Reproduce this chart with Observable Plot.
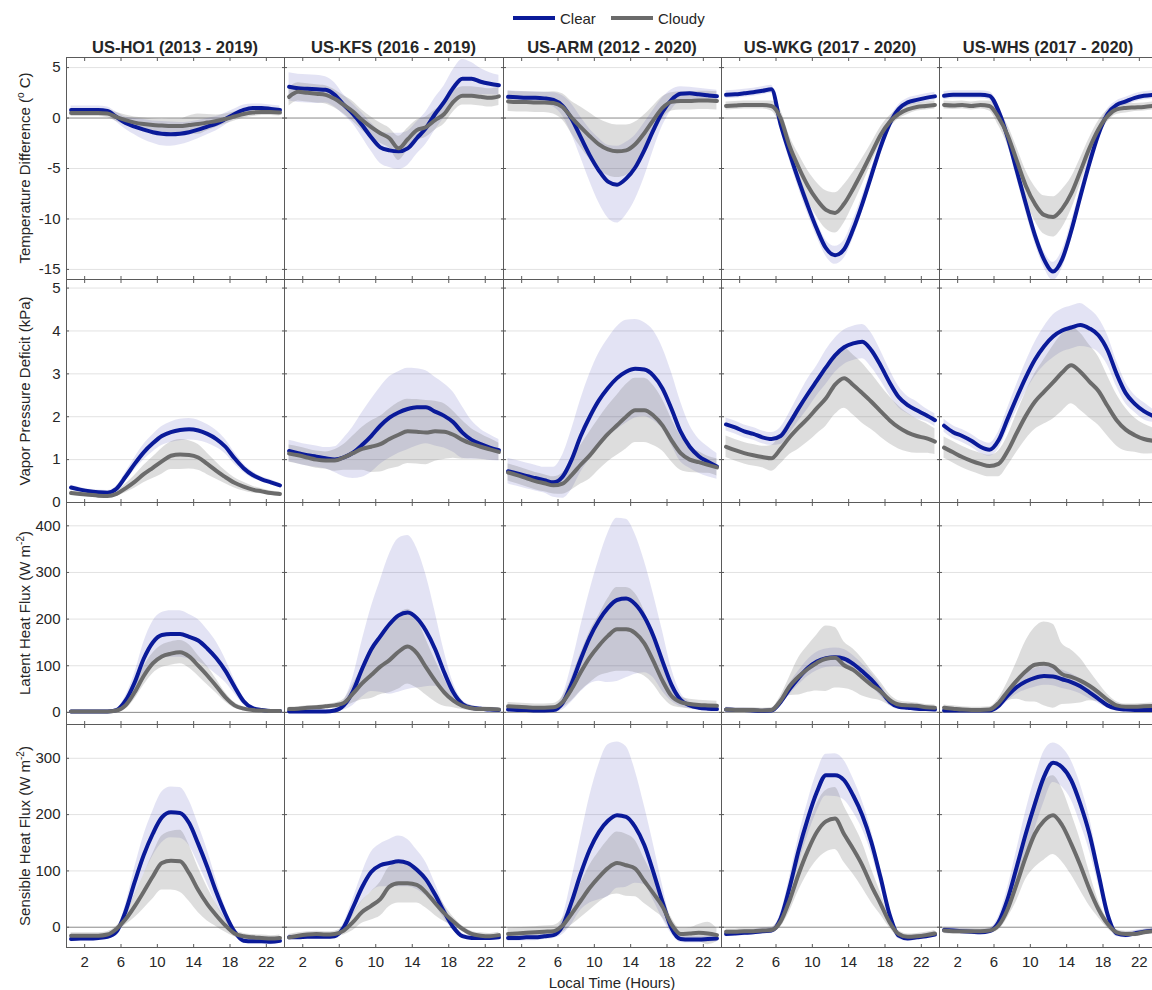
<!DOCTYPE html>
<html><head><meta charset="utf-8">
<script src="https://cdn.jsdelivr.net/npm/d3@7"></script>
<script src="https://cdn.jsdelivr.net/npm/@observablehq/plot@0.6"></script>
<style>
html,body{margin:0;padding:0;background:#fff;overflow:hidden;}
#fig{position:relative;width:1152px;height:990px;overflow:hidden;font-family:"Liberation Sans",Arial,sans-serif;color:#262626;background:#fff;}
.panel{position:absolute;}
.panel svg{overflow:visible;display:block;max-width:none !important;}
.title{position:absolute;font-weight:bold;font-size:16.5px;white-space:nowrap;transform:translate(-50%,-50%);}
.ylab{position:absolute;font-size:15px;white-space:nowrap;transform:translate(-50%,-50%) rotate(-90deg);}
.ylab sup{font-size:10px;vertical-align:6px;line-height:0;}
.xlab{position:absolute;font-size:15px;white-space:nowrap;transform:translate(-50%,-50%);}
.legend{position:absolute;left:0;top:0;font-size:15px;}
</style>
</head><body>
<div id="fig"></div>
<script>
// ---------------- data ----------------
const sites = ["US-HO1 (2013 - 2019)", "US-KFS (2016 - 2019)", "US-ARM (2012 - 2020)", "US-WKG (2017 - 2020)", "US-WHS (2017 - 2020)"];
const hours = [0.5,1.5,2.5,3.5,4.5,5.5,6.5,7.5,8.5,9.5,10.5,11.5,12.5,13.5,14.5,15.5,16.5,17.5,18.5,19.5,20.5,21.5,22.5,23.5];
const xTicks = [2, 6, 10, 14, 18, 22];
const seriesNames = ["Clear", "Cloudy"];
const rowLabels = ["Temperature Difference (<sup>o</sup> C)", "Vapor Pressure Deficit (kPa)", "Latent Heat Flux (W m<sup>-2</sup>)", "Sensible Heat Flux (W m<sup>-2</sup>)"];
const xLabel = "Local Time (Hours)";

// Temperature difference (°C)
const tempClearMean = [
 [0.8,0.8,0.8,0.8,0.7,0.1,-0.5,-0.85,-1.15,-1.4,-1.55,-1.6,-1.55,-1.4,-1.15,-0.85,-0.55,-0.1,0.4,0.8,1.0,1.0,0.9,0.8],
 [3.1,2.95,2.9,2.85,2.8,2.3,1.3,0.4,-0.7,-1.9,-2.9,-3.2,-3.3,-3.0,-2.0,-1.0,0.4,1.6,3.0,3.9,3.9,3.6,3.4,3.25],
 [2.1,2.05,2.0,2.0,1.95,1.8,1.2,-0.1,-1.9,-3.7,-5.2,-6.3,-6.6,-6.0,-4.9,-3.2,-1.2,0.6,1.8,2.4,2.45,2.35,2.25,2.15],
 [2.3,2.35,2.45,2.55,2.7,2.85,-0.6,-3.5,-6.2,-8.7,-11.0,-12.9,-13.6,-13.0,-11.0,-8.5,-5.7,-2.9,-0.6,0.9,1.55,1.8,2.0,2.15],
 [2.2,2.3,2.3,2.3,2.3,2.2,0.7,-1.9,-5.2,-8.5,-11.6,-14.0,-15.2,-14.0,-11.2,-7.8,-4.5,-1.6,0.4,1.3,1.65,2.0,2.2,2.3]];
const tempClearSd = [
 [0.4,0.4,0.4,0.4,0.4,0.5,0.6,0.8,1.0,1.1,1.2,1.2,1.1,1.0,0.9,0.8,0.7,0.6,0.5,0.5,0.4,0.4,0.4,0.4],
 [1.4,1.4,1.4,1.4,1.3,1.2,1.0,1.0,1.2,1.4,1.6,1.7,1.8,1.7,1.6,1.6,1.6,1.6,1.8,1.9,1.6,1.3,1.1,1.0],
 [0.6,0.6,0.6,0.6,0.6,0.7,1.0,1.5,2.0,2.6,3.2,3.6,3.8,3.6,3.2,2.7,2.0,1.4,1.0,0.7,0.6,0.6,0.6,0.6],
 [0.4,0.4,0.4,0.4,0.4,0.4,0.6,0.7,0.8,0.8,0.8,0.8,0.9,0.9,0.9,0.8,0.7,0.6,0.5,0.4,0.4,0.4,0.4,0.4],
 [0.4,0.4,0.4,0.4,0.4,0.4,0.6,0.7,0.8,0.8,0.8,0.8,0.9,0.9,0.9,0.8,0.7,0.6,0.5,0.4,0.4,0.4,0.4,0.4]];
const tempCloudyMean = [
 [0.5,0.5,0.5,0.5,0.45,0.1,-0.2,-0.45,-0.6,-0.7,-0.75,-0.8,-0.8,-0.7,-0.6,-0.45,-0.3,-0.1,0.15,0.4,0.55,0.6,0.6,0.55],
 [2.1,2.6,2.5,2.4,2.3,1.9,1.3,0.65,-0.2,-0.9,-1.5,-2.0,-3.0,-2.1,-1.2,-0.9,-0.2,0.4,1.6,2.2,2.2,2.1,2.0,2.15],
 [1.65,1.6,1.6,1.55,1.55,1.5,1.1,0.05,-0.9,-1.8,-2.6,-3.1,-3.3,-3.2,-2.6,-1.5,-0.2,1.0,1.6,1.7,1.7,1.75,1.75,1.7],
 [1.2,1.25,1.3,1.3,1.3,1.2,0.0,-2.8,-4.9,-6.7,-8.1,-9.1,-9.4,-8.5,-7.0,-5.3,-3.5,-1.7,-0.4,0.4,0.85,1.1,1.2,1.3],
 [1.3,1.25,1.3,1.2,1.3,1.2,0.05,-1.7,-4.2,-6.7,-8.5,-9.6,-9.8,-9.0,-7.5,-5.3,-3.0,-1.1,0.2,0.85,1.0,1.05,1.1,1.2]];
const tempCloudySd = [
 [0.35,0.35,0.35,0.35,0.4,0.45,0.5,0.55,0.6,0.6,0.6,0.7,0.7,0.9,1.0,0.8,0.6,0.5,0.45,0.4,0.4,0.35,0.35,0.35],
 [0.9,0.9,0.9,0.9,0.9,0.9,0.9,1.0,1.0,1.0,1.0,1.0,1.2,1.1,1.0,1.0,1.0,1.0,1.0,0.9,0.9,0.9,0.9,0.9],
 [1.0,1.0,1.0,1.0,1.0,1.1,1.3,1.6,2.0,2.3,2.5,2.6,2.6,2.5,2.2,1.8,1.4,1.1,0.9,0.9,0.9,0.9,0.9,0.9],
 [0.4,0.4,0.4,0.4,0.4,0.5,0.8,1.0,1.3,1.5,1.7,1.9,2.0,1.9,1.6,1.3,1.0,0.8,0.6,0.5,0.5,0.4,0.4,0.4],
 [0.4,0.4,0.4,0.4,0.4,0.5,0.8,1.0,1.3,1.5,1.7,1.9,2.0,1.9,1.6,1.3,1.0,0.8,0.6,0.5,0.5,0.4,0.4,0.4]];

// Vapor pressure deficit (kPa)
const vpdClearMean = [
 [0.35,0.3,0.26,0.24,0.23,0.32,0.6,0.9,1.17,1.38,1.55,1.64,1.69,1.71,1.68,1.6,1.48,1.3,1.03,0.8,0.64,0.54,0.47,0.4],
 [1.2,1.15,1.1,1.07,1.03,1.0,1.05,1.16,1.34,1.55,1.79,1.98,2.1,2.18,2.22,2.22,2.12,2.02,1.87,1.63,1.46,1.36,1.28,1.22],
 [0.73,0.68,0.62,0.57,0.52,0.47,0.6,1.0,1.55,2.0,2.38,2.67,2.9,3.05,3.12,3.1,2.96,2.66,2.18,1.65,1.3,1.08,0.95,0.84],
 [1.82,1.75,1.66,1.6,1.52,1.48,1.55,1.85,2.2,2.53,2.84,3.15,3.43,3.62,3.71,3.75,3.55,3.2,2.8,2.46,2.27,2.15,2.04,1.92],
 [1.79,1.64,1.55,1.44,1.3,1.23,1.45,1.95,2.45,2.92,3.33,3.64,3.87,4.01,4.08,4.14,4.06,3.9,3.55,3.0,2.55,2.3,2.13,2.02]];
const vpdClearSd = [
 [0.05,0.05,0.05,0.05,0.05,0.06,0.1,0.14,0.18,0.2,0.22,0.24,0.25,0.25,0.24,0.22,0.2,0.17,0.14,0.1,0.08,0.06,0.06,0.05],
 [0.25,0.25,0.25,0.25,0.25,0.3,0.45,0.6,0.75,0.85,0.9,0.95,0.95,0.95,0.9,0.85,0.8,0.75,0.7,0.6,0.45,0.35,0.3,0.25],
 [0.3,0.3,0.3,0.3,0.3,0.35,0.5,0.7,0.85,1.0,1.1,1.15,1.2,1.2,1.15,1.1,1.05,0.95,0.85,0.7,0.5,0.4,0.35,0.3],
 [0.15,0.15,0.15,0.15,0.15,0.15,0.2,0.25,0.3,0.35,0.35,0.4,0.4,0.4,0.4,0.4,0.4,0.35,0.3,0.25,0.2,0.2,0.15,0.15],
 [0.15,0.15,0.15,0.15,0.15,0.15,0.2,0.25,0.3,0.35,0.4,0.45,0.5,0.5,0.5,0.5,0.45,0.4,0.35,0.3,0.25,0.2,0.2,0.15]];
const vpdCloudyMean = [
 [0.22,0.2,0.18,0.16,0.15,0.2,0.33,0.48,0.66,0.81,0.96,1.09,1.12,1.11,1.05,0.9,0.74,0.59,0.46,0.37,0.3,0.26,0.22,0.2],
 [1.14,1.1,1.05,1.0,0.98,0.98,1.05,1.15,1.25,1.3,1.36,1.48,1.58,1.66,1.65,1.63,1.66,1.65,1.58,1.46,1.37,1.3,1.24,1.18],
 [0.7,0.64,0.57,0.5,0.45,0.4,0.44,0.64,0.88,1.1,1.36,1.6,1.8,2.0,2.15,2.15,2.03,1.8,1.45,1.15,1.0,0.94,0.88,0.82],
 [1.3,1.22,1.15,1.1,1.06,1.03,1.25,1.52,1.75,1.96,2.2,2.43,2.75,2.9,2.74,2.55,2.35,2.13,1.92,1.75,1.63,1.55,1.5,1.42],
 [1.28,1.17,1.06,0.97,0.9,0.85,0.9,1.2,1.62,2.02,2.35,2.58,2.8,3.03,3.2,3.05,2.82,2.6,2.25,1.92,1.7,1.57,1.48,1.44]];
const vpdCloudySd = [
 [0.05,0.05,0.05,0.05,0.05,0.06,0.1,0.15,0.2,0.25,0.3,0.32,0.35,0.33,0.3,0.25,0.2,0.15,0.12,0.1,0.08,0.06,0.05,0.05],
 [0.2,0.2,0.2,0.2,0.2,0.25,0.3,0.4,0.5,0.6,0.65,0.7,0.75,0.75,0.75,0.75,0.7,0.65,0.55,0.45,0.35,0.3,0.25,0.2],
 [0.2,0.2,0.2,0.2,0.2,0.2,0.25,0.35,0.45,0.55,0.6,0.65,0.7,0.75,0.75,0.75,0.7,0.6,0.5,0.4,0.3,0.25,0.2,0.2],
 [0.25,0.25,0.25,0.25,0.25,0.3,0.35,0.4,0.5,0.55,0.6,0.65,0.7,0.7,0.7,0.7,0.65,0.6,0.55,0.5,0.45,0.4,0.35,0.3],
 [0.25,0.25,0.25,0.25,0.25,0.25,0.3,0.35,0.45,0.55,0.65,0.75,0.85,0.9,0.9,0.9,0.85,0.8,0.7,0.6,0.5,0.4,0.35,0.3]];

// Latent heat flux (W m-2)
const leClearMean = [
 [2,2,2,2,2,5,25,64,115,150,166,168,168,162,154,137,116,89,55,24,9,5,3,3],
 [2,2,2,2,2,4,15,45,93,135,163,189,208,214,202,175,136,86,43,18,10,8,6,5],
 [6,5,5,4,4,5,20,62,114,161,197,224,241,244,232,205,164,110,59,27,15,10,8,7],
 [6,5,5,4,3,4,22,50,74,95,109,116,118,115,104,88,70,47,23,12,10,8,7,6],
 [4,4,4,4,4,4,14,36,54,66,74,78,77,71,65,56,43,29,15,8,6,5,5,5]];
const leClearSd = [
 [2,2,2,2,2,3,10,20,35,45,48,50,50,48,45,40,35,25,15,8,4,3,2,2],
 [3,3,3,3,3,4,10,30,60,90,120,150,165,165,150,120,80,45,20,8,5,4,4,4],
 [4,4,4,4,4,5,15,40,70,100,130,160,175,170,150,120,90,65,35,15,8,6,5,5],
 [5,5,5,5,5,5,8,12,15,18,20,20,20,20,18,16,14,12,8,6,5,5,5,5],
 [4,4,4,4,4,4,8,12,15,18,20,20,20,20,18,16,14,10,6,5,4,4,4,4]];
const leCloudyMean = [
 [2,2,2,2,2,4,15,43,78,105,120,126,129,120,100,79,56,32,15,8,5,4,3,3],
 [7,8,10,11,13,15,20,40,62,80,98,112,130,141,127,97,68,43,25,14,9,7,7,6],
 [13,12,11,10,10,11,22,50,86,118,143,164,178,178,170,148,110,68,35,22,18,16,15,14],
 [6,5,5,5,4,5,25,56,77,93,106,115,117,101,91,75,59,45,27,17,15,14,11,10],
 [10,8,6,5,5,6,20,45,68,88,102,104,99,82,76,68,57,43,27,15,12,12,13,14]];
const leCloudySd = [
 [2,2,2,2,2,3,8,15,20,22,24,25,25,25,22,20,15,10,6,4,3,2,2,2],
 [4,4,4,4,4,5,8,20,35,50,60,70,80,80,75,60,45,30,15,8,6,5,4,4],
 [8,8,8,8,8,8,12,25,40,55,65,80,90,90,85,70,50,35,20,12,10,10,10,10],
 [5,5,5,5,5,5,10,20,40,50,60,70,65,50,45,40,30,20,12,8,7,6,6,6],
 [6,6,6,6,6,6,10,20,40,65,80,90,90,65,58,48,32,20,12,8,6,6,6,6]];

// Sensible heat flux (W m-2)
const hClearMean = [
 [-21,-20,-20,-19,-17,-8,28,80,128,166,195,204,203,185,148,107,62,23,-8,-24,-25,-25,-26,-24],
 [-18,-18,-17,-17,-17,-16,0,35,71,98,110,114,117,114,102,85,58,27,0,-16,-19,-19,-19,-18],
 [-19,-19,-18,-18,-16,-14,2,45,95,138,169,189,199,196,178,146,98,45,-2,-21,-22,-22,-21,-20],
 [-12,-11,-10,-9,-7,-6,15,71,137,193,240,270,270,261,234,199,151,89,23,-15,-20,-18,-16,-13],
 [-5,-6,-7,-8,-9,-7,9,50,107,166,219,267,292,284,261,219,166,95,23,-11,-14,-11,-8,-6]];
const hClearSd = [
 [5,5,5,5,5,6,12,25,35,40,45,45,45,40,35,30,22,12,6,5,5,5,5,5],
 [4,4,4,4,4,4,8,15,25,35,38,42,45,42,35,30,20,12,6,4,4,4,4,4],
 [6,6,6,6,6,6,15,40,65,95,120,135,130,125,100,70,50,30,10,6,6,6,6,6],
 [5,5,5,5,5,5,10,18,25,30,35,37,38,35,30,25,20,15,10,6,5,5,5,5],
 [5,5,5,5,5,5,10,20,30,40,45,45,35,35,35,35,30,20,10,6,5,5,5,5]];
const hCloudyMean = [
 [-15,-15,-15,-15,-13,-3,14,37,63,90,114,118,117,96,66,41,21,3,-11,-16,-18,-19,-20,-19],
 [-18,-15,-13,-12,-13,-12,-6,9,27,38,50,72,78,78,75,62,43,25,10,-3,-12,-15,-16,-14],
 [-12,-11,-10,-9,-8,-7,3,24,47,70,89,105,114,110,104,82,60,37,5,-12,-11,-10,-11,-14],
 [-8,-8,-7,-7,-6,-5,10,48,95,136,169,188,193,165,139,110,74,42,9,-12,-17,-16,-14,-11],
 [-6,-7,-7,-7,-7,-6,3,32,77,125,166,189,199,181,148,110,68,32,6,-9,-12,-12,-9,-7]];
const hCloudySd = [
 [5,5,5,5,5,5,10,20,30,40,48,52,55,50,40,30,20,12,6,5,5,5,5,5],
 [5,5,5,5,5,5,8,15,20,25,30,35,35,35,32,28,22,15,8,5,5,5,5,5],
 [10,10,10,10,10,10,12,20,30,40,45,50,55,55,50,40,30,20,12,10,10,15,20,12],
 [5,5,5,5,5,5,10,20,30,40,50,55,55,50,45,40,30,20,10,6,5,5,5,5],
 [5,5,5,5,5,5,8,15,30,40,60,70,70,65,55,45,30,15,8,5,5,5,5,5]];

// ---------------- layout / style ----------------
const colL = [66, 284, 503, 721, 939, 1157];
const rowT = [57, 279, 502, 724, 947];
const rows = [
  {clearMean: tempClearMean, clearSd: tempClearSd, cloudyMean: tempCloudyMean, cloudySd: tempCloudySd, domain: [-16, 6], ticks: [-15, -10, -5, 0, 5], zero: true},
  {clearMean: vpdClearMean, clearSd: vpdClearSd, cloudyMean: vpdCloudyMean, cloudySd: vpdCloudySd, domain: [0, 5.2], ticks: [0, 1, 2, 3, 4, 5], zero: false},
  {clearMean: leClearMean, clearSd: leClearSd, cloudyMean: leCloudyMean, cloudySd: leCloudySd, domain: [-26, 450], ticks: [0, 100, 200, 300, 400], zero: true},
  {clearMean: hClearMean, clearSd: hClearSd, cloudyMean: hCloudyMean, cloudySd: hCloudySd, domain: [-36, 360], ticks: [0, 100, 200, 300], zero: true}
];
const CLEAR = "#0a1a99", CLOUDY = "#6b6b6b";
const FRAME = "#5a5a5a";
const CURVE = "monotone-x";

function series(means, sds) {
  return hours.map((h, i) => ({hour: h, mean: means[i], lo: means[i] - sds[i], hi: means[i] + sds[i]}));
}

const fig = document.getElementById("fig");

// legend
const leg = document.createElement("div");
leg.className = "legend";
leg.innerHTML = `
<svg width="1152" height="34" style="position:absolute;left:0;top:0">
  <line x1="513" x2="555" y1="18" y2="18" stroke="${CLEAR}" stroke-width="4"/>
  <text x="560" y="23.5" font-size="15" fill="#262626" font-family="Liberation Sans, Arial, sans-serif">${seriesNames[0]}</text>
  <line x1="611" x2="653" y1="18" y2="18" stroke="${CLOUDY}" stroke-width="4"/>
  <text x="658" y="23.5" font-size="15" fill="#262626" font-family="Liberation Sans, Arial, sans-serif">${seriesNames[1]}</text>
</svg>`;
fig.appendChild(leg);

// titles
sites.forEach((s, c) => {
  const t = document.createElement("div");
  t.className = "title";
  t.textContent = s;
  t.style.left = ((colL[c] + colL[c + 1]) / 2) + "px";
  t.style.top = "47px";
  fig.appendChild(t);
});

// y labels
rowLabels.forEach((l, r) => {
  const t = document.createElement("div");
  t.className = "ylab";
  t.innerHTML = l;
  t.style.left = "24px";
  t.style.top = ((rowT[r] + rowT[r + 1]) / 2) + "px";
  fig.appendChild(t);
});

// x label
const xl = document.createElement("div");
xl.className = "xlab";
xl.textContent = xLabel;
xl.style.left = ((colL[2] + colL[3]) / 2) + "px";
xl.style.top = "982px";
fig.appendChild(xl);

rows.forEach((row, r) => {
  sites.forEach((site, c) => {
    const left = c === 0 ? 0 : colL[c];
    const ml = c === 0 ? colL[0] : 0;
    const w = colL[c + 1] - left;
    const mb = r === 3 ? 45 : 0;
    const h = rowT[r + 1] - rowT[r] + mb;
    const clear = series(row.clearMean[c], row.clearSd[c]);
    const cloudy = series(row.cloudyMean[c], row.cloudySd[c]);
    const grid = row.ticks.filter(t => t !== 0);
    const marks = [
      Plot.ruleY(grid, {stroke: "#e2e2e2", strokeWidth: 1}),
      row.zero ? Plot.ruleY([0], {stroke: "#8a8a8a", strokeWidth: 1}) : null,
      Plot.areaY(clear, {x: "hour", y1: "lo", y2: "hi", fill: "#000099", fillOpacity: 0.11, curve: CURVE, clip: true}),
      Plot.areaY(cloudy, {x: "hour", y1: "lo", y2: "hi", fill: "#666666", fillOpacity: 0.22, curve: CURVE, clip: true}),
      Plot.lineY(clear, {x: "hour", y: "mean", stroke: CLEAR, strokeWidth: 4, curve: CURVE, clip: true}),
      Plot.lineY(cloudy, {x: "hour", y: "mean", stroke: CLOUDY, strokeWidth: 4, curve: CURVE, clip: true}),
      Plot.frame({stroke: FRAME, strokeWidth: 1}),
      Plot.axisX(xTicks, {anchor: "top", tickSize: 3, dy: 3, tickFormat: () => "", label: null, stroke: FRAME}),
      Plot.axisX(xTicks, {anchor: "bottom", tickSize: 3, dy: -3, tickFormat: () => "", label: null, stroke: FRAME}),
      Plot.axisY(row.ticks, {anchor: "left", tickSize: 3, dx: 3, tickFormat: () => "", label: null, stroke: FRAME}),
      Plot.axisY(row.ticks, {anchor: "right", tickSize: 3, dx: -3, tickFormat: () => "", label: null, stroke: FRAME})
    ];
    if (c === 0) marks.push(Plot.axisY(row.ticks, {anchor: "left", tickSize: 0, tickPadding: 6, tickFormat: d => String(d), label: null, fontSize: 15}));
    if (r === 3) marks.push(Plot.axisX(xTicks, {anchor: "bottom", tickSize: 0, tickPadding: 9, tickFormat: d => String(d), label: null, fontSize: 15}));
    const p = Plot.plot({
      width: w, height: h,
      marginLeft: ml, marginRight: 0, marginTop: 0, marginBottom: mb,
      style: {background: "transparent", overflow: "visible", fontFamily: "Liberation Sans, Arial, sans-serif", fontSize: "15px", color: "#262626"},
      x: {domain: [0, 24]},
      y: {domain: row.domain},
      marks
    });
    const d = document.createElement("div");
    d.className = "panel";
    d.style.left = left + "px";
    d.style.top = rowT[r] + "px";
    d.style.width = w + "px";
    d.appendChild(p);
    fig.appendChild(d);
  });
});
</script>
</body></html>
